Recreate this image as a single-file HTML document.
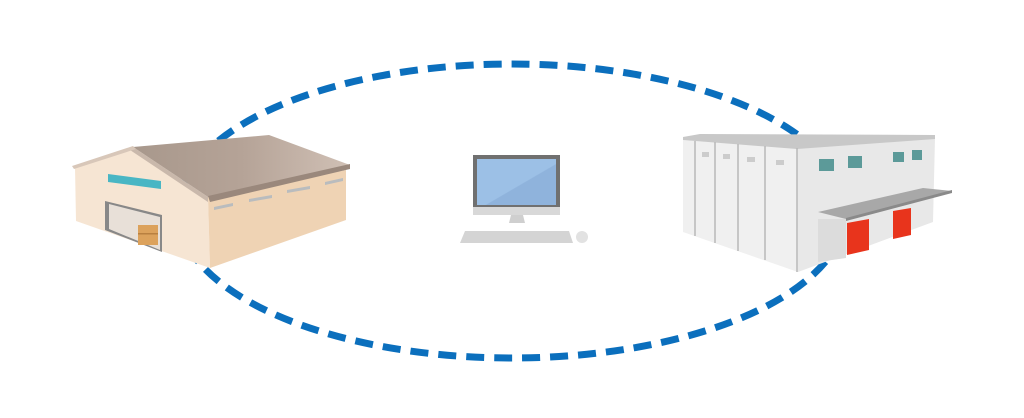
<!DOCTYPE html>
<html><head><style>html,body{margin:0;padding:0;background:#fff;}svg{display:block}</style></head>
<body>
<svg width="1024" height="418" viewBox="0 0 1024 418" xmlns="http://www.w3.org/2000/svg">
<defs>
<linearGradient id="roof" x1="0" y1="0" x2="1" y2="0"><stop offset="0" stop-color="#a8988c"/><stop offset="0.5" stop-color="#b5a397"/><stop offset="1" stop-color="#d0c0b5"/></linearGradient>
<linearGradient id="scr" x1="0" y1="0" x2="1" y2="1"><stop offset="0" stop-color="#9cc0e6"/><stop offset="0.55" stop-color="#9cc0e6"/><stop offset="0.56" stop-color="#8fb3dc"/><stop offset="1" stop-color="#8fb3dc"/></linearGradient>
</defs>
<ellipse cx="512" cy="211" rx="334" ry="147" fill="none" stroke="#0b6fbd" stroke-width="7" stroke-dasharray="18 10"/>
<!-- left warehouse -->
<polygon points="75,167 133,147 208,197 210,268 76,221" fill="#f6e5d3"/>
<polygon points="208,197 346,170 346,220 210,268" fill="#efd3b4"/>
<polygon points="133,147 269,135 350,165 208,197" fill="url(#roof)"/>
<polygon points="133,147 208,197 208,202 130,150" fill="#c9b8ab"/>
<polygon points="72,166 133,146 136,149 74,169" fill="#d8c7b9"/>
<polygon points="208,196 350,164 350,169 210,202" fill="#9a887c"/>
<polygon points="108,174 161,181 161,189 108,182" fill="#49b6c4"/>
<polygon points="105,201 162,215 162,252 105,230" fill="#888"/>
<polygon points="109,204 160,217 160,250 109,229" fill="#e8e0d8"/>
<rect x="138" y="225" width="20" height="20" fill="#dca25c"/>
<rect x="138" y="233" width="20" height="1.5" fill="#b98040"/>
<polygon points="214,207 233,203 233,206 214,210" fill="#b9bcbe"/>
<polygon points="249,199 272,195 272,198 249,202" fill="#b9bcbe"/>
<polygon points="287,190 310,186 310,189 287,193" fill="#b9bcbe"/>
<polygon points="325,182 343,178 343,181 325,185" fill="#b9bcbe"/>
<!-- right warehouse -->
<polygon points="683,140 797,148 798,272 683,232" fill="#f0f0f0"/>
<polygon points="797,148 935,138 933,222 798,272" fill="#e8e8e8"/>
<polygon points="683,137 700,134 935,135 935,139 797,149 683,140" fill="#c8c8c8"/>
<g stroke="#b8b8b8" stroke-width="1.5">
<line x1="695" y1="141" x2="695" y2="236"/><line x1="715" y1="142" x2="715" y2="243"/><line x1="738" y1="144" x2="738" y2="251"/><line x1="765" y1="146" x2="765" y2="260"/><line x1="797" y1="148" x2="797" y2="272"/>
</g>
<rect x="702" y="152" width="7" height="5" fill="#ccc"/><rect x="723" y="154" width="7" height="5" fill="#ccc"/><rect x="747" y="157" width="8" height="5" fill="#ccc"/><rect x="776" y="160" width="8" height="5" fill="#ccc"/>
<g fill="#5c9a99"><rect x="819" y="159" width="15" height="12"/><rect x="848" y="156" width="14" height="12"/><rect x="893" y="152" width="11" height="10"/><rect x="912" y="150" width="10" height="10"/></g>
<polygon points="818,219 846,219 846,258 818,262" fill="#dcdcdc"/>
<polygon points="818,212 923,188 952,191 846,219" fill="#a8a8a8"/>
<polygon points="846,218 952,190 952,193 846,221" fill="#8a8a8a"/>
<polygon points="847,223 869,219 869,250 847,255" fill="#e8341c"/>
<polygon points="893,211 911,208 911,235 893,239" fill="#e8341c"/>
<!-- computer -->
<rect x="473" y="155" width="87" height="60" fill="#d8d8d8"/>
<rect x="473" y="155" width="87" height="52" fill="#707070"/>
<rect x="477" y="159" width="79" height="46" fill="url(#scr)"/>
<polygon points="511,215 523,215 525,223 509,223" fill="#cfcfcf"/>
<polygon points="465,231 569,231 573,243 460,243" fill="#d4d4d4"/>
<circle cx="582" cy="237" r="6" fill="#e2e2e2"/>
</svg>
</body></html>
